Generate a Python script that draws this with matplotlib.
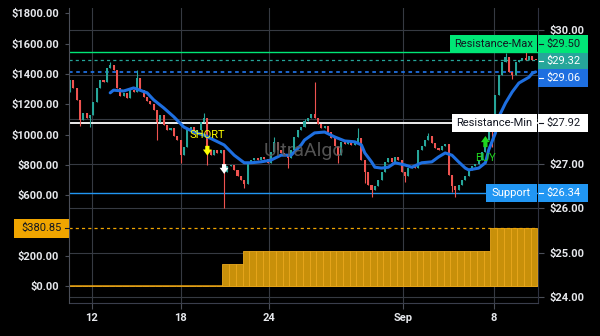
import matplotlib
matplotlib.use("Agg")
import matplotlib.pyplot as plt
from matplotlib.patches import Rectangle
from matplotlib.lines import Line2D
from matplotlib.transforms import IdentityTransform
import numpy as np

plt.rcParams["font.family"] = ["Roboto", "DejaVu Sans"]

# ---- price bars (open of each bar = previous close) ----
first_open = 28.61
closes = [
    28.88, 28.70, 28.43, 27.98, 28.14, 28.02, 28.09, 28.38, 28.70, 28.88,
    28.83, 29.15, 29.21, 29.10, 28.70, 28.52, 28.59, 28.47, 28.65, 28.61,
    28.92, 28.65, 28.50, 28.41, 28.34, 28.20, 27.93, 28.09, 27.87, 27.76,
    27.80, 27.62, 27.53, 27.19, 27.37, 27.76, 27.82, 27.69, 27.76, 27.93,
    28.02, 27.31, 27.19, 27.31, 27.24, 27.31, 26.81, 26.95, 26.97, 26.86,
    26.72, 26.63, 26.54, 27.04, 27.08, 27.13, 27.08, 27.15, 27.10, 27.02,
    27.26, 27.49, 27.31, 27.24, 27.19, 27.13, 27.31, 27.60, 27.76, 27.82,
    27.96, 28.02, 28.11, 28.02, 27.89, 27.80, 27.85, 27.71, 27.58, 27.40,
    27.19, 27.49, 27.44, 27.51, 27.42, 27.46, 27.58, 27.08, 26.81, 26.52,
    26.41, 26.50, 26.63, 26.81, 27.04, 27.13, 27.04, 27.15, 27.08, 26.81,
    26.72, 26.90, 26.95, 26.90, 27.31, 27.40, 27.53, 27.62, 27.46, 27.35,
    27.31, 27.40, 27.44, 26.75, 26.50, 26.41, 26.52, 26.63, 26.72, 26.86,
    26.95, 27.00, 27.08, 27.26, 27.53, 27.87, 27.80, 28.54, 28.99, 29.28,
    29.39, 29.06, 28.99, 29.28, 29.33, 29.37, 29.33, 29.42, 29.33, 29.32,
]
# wicks sticking out past the body
wick_highs = {12: 29.28, 20: 29.10, 40: 28.14, 61: 27.60, 70: 28.00, 73: 28.83,
              86: 27.80, 107: 27.69, 130: 29.48, 136: 29.51}
wick_lows = {3: 27.85, 6: 27.82, 26: 27.53, 33: 27.02, 41: 26.97, 46: 26.00,
             52: 26.45, 65: 26.90, 80: 27.02, 88: 26.57, 90: 26.25, 100: 26.59,
             114: 26.36, 115: 26.25, 126: 27.37, 132: 28.90}

# moving average line
ma_idx = [12, 13, 16, 19, 23, 25, 28, 31, 34, 37, 40, 43, 46, 49, 52, 54, 57, 60,
          63, 66, 69, 70, 73, 76, 79, 82, 85, 87, 88, 90, 91, 93, 95, 97, 100, 102,
          105, 108, 110, 112, 114, 116, 118, 119, 122, 124, 125, 127, 128, 130,
          132, 134, 137, 138, 139]
ma_val = [28.59, 28.65, 28.63, 28.70, 28.59, 28.43, 28.25, 28.05, 27.82, 27.71,
          27.64, 27.53, 27.42, 27.19, 27.02, 27.02, 27.04, 27.08, 27.19, 27.19,
          27.42, 27.53, 27.69, 27.71, 27.60, 27.51, 27.49, 27.42, 27.24, 27.04,
          26.92, 26.90, 26.92, 27.02, 26.97, 26.92, 27.02, 27.04, 27.15, 27.24,
          27.19, 27.04, 26.90, 26.86, 26.90, 27.02, 27.31, 27.69, 28.05, 28.36,
          28.61, 28.81, 28.94, 29.03, 29.06]

# equity steps (one equity bar per two price bars)
eq_bar_count = 70
eq_step_start = [0, 23, 26, 63]
eq_step_level = [0, 145, 231, 380.85]
eq_last = 380.85

# horizontal levels on the price scale
level_vals = [29.50, 29.32, 29.06, 27.92, 26.34]
level_names = ["Resistance-Max", "", "", "Resistance-Min", "Support"]
level_colors = ["#00e676", "#26a69a", "#1e6fe0", "#ffffff", "#2196f3"]
level_text = ["#131722", "#ffffff", "#ffffff", "#131722", "#ffffff"]
level_ls = ["-", (0, (2.5, 2.5)), (0, (2, 2)), "-", "-"]
level_lw = [1.0, 0.9, 1.3, 1.3, 1.0]

# signals
sig_idx = [41, 46, 124]
sig_label = ["SHORT", "", "BUY"]
sig_from = [27.40, 26.99, 27.37]
sig_to = [27.18, 26.77, 27.62]
sig_color = ["#ffff00", "#ffffff", "#1ed61e"]

x_tick_pos = [6.5, 33, 59.5, 99.5, 126.5]
x_tick_lab = ["12", "18", "24", "Sep", "8"]
price_ticks = [24, 25, 26, 27, 28, 29, 30]
price_tick_lab = ["$24.00", "$25.00", "$26.00", "$27.00", "", "", "$30.00"]
eq_ticks = [0, 200, 600, 800, 1000, 1200, 1400, 1600, 1800]

GREEN = "#26a69a"
RED = "#ef5350"
TXT = "#e6e8ec"
GRID = "#363a42"

W, H = 600, 336
fig = plt.figure(figsize=(W / 100, H / 100), dpi=100, facecolor="black")
ax = fig.add_axes([69 / W, 1 - 303 / H, 469 / W, 295 / H])
ax.set_facecolor("black")
eq_ax = ax.twinx()

# candles
n = len(closes)
x = np.arange(n)
c = np.array(closes)
o = np.array([first_open] + closes[:-1])
hi = np.maximum(o, c)
lo = np.minimum(o, c)
for i, v in wick_highs.items():
    hi[i] = v
for i, v in wick_lows.items():
    lo[i] = v
cols = np.where(c >= o, GREEN, RED)
ax.vlines(x, lo, hi, colors=cols, lw=0.8, zorder=3)
ax.bar(x, np.maximum(np.abs(c - o), 0.02), bottom=np.minimum(o, c), width=0.62,
       color=cols, lw=0, zorder=3)

ax.plot(ma_idx, ma_val, color="#1e6fe0", lw=2.2, zorder=4, solid_capstyle="round")

for v, col, ls, lw in zip(level_vals, level_colors, level_ls, level_lw):
    ax.axhline(v, color=col, ls=ls, lw=lw, zorder=2)

for i, lab, y0, y1, col in zip(sig_idx, sig_label, sig_from, sig_to, sig_color):
    ax.annotate("", xy=(i, y1), xytext=(i, y0),
                arrowprops=dict(arrowstyle="simple,head_width=0.8,head_length=0.55,tail_width=0.38",
                                fc=col, ec="none", shrinkA=0, shrinkB=0, mutation_scale=8),
                zorder=6)
    if lab:
        up = y1 > y0
        ax.annotate(lab, xy=(i, y0), xytext=(0, -8 if up else 8), textcoords="offset points",
                    ha="center", va="center", color=col, fontsize=8, zorder=6)

ax.set_xlim(-0.3, 139.7)
ax.set_ylim(23.872, 30.494)
ax.yaxis.tick_right()
ax.set_yticks(price_ticks)
ax.set_yticklabels(price_tick_lab)
ax.set_xticks(x_tick_pos)
ax.set_xticklabels(x_tick_lab)
ax.grid(True, color=GRID, lw=0.8)
ax.set_axisbelow(True)
ax.tick_params(axis="y", colors="#4a4e58", labelcolor=TXT, labelsize=8, length=4, pad=4)
ax.tick_params(axis="x", colors="#4a4e58", labelcolor=TXT, labelsize=8, length=4, pad=3)
for t in ax.get_xticklabels() + ax.get_yticklabels():
    t.set_fontweight("bold")

# equity bars on the left scale
heights = np.zeros(eq_bar_count)
for s, lev in zip(eq_step_start, eq_step_level):
    heights[s:] = lev
eq_ax.axhline(0, color="#e8a010", lw=1.1, zorder=1)
eq_ax.bar(np.arange(eq_bar_count) * 2 + 0.5, heights, width=2, color="#c8900a",
          edgecolor="#eaa81c", lw=0.6, zorder=2)
eq_ax.axhline(eq_last, color="#f0a500", ls=(0, (2.5, 2.5)), lw=0.9, zorder=2)
eq_ax.set_ylim(-112, 1835)
eq_ax.yaxis.tick_left()
eq_ax.set_yticks(eq_ticks)
eq_ax.set_yticklabels([f"${v:.2f}" for v in eq_ticks])
eq_ax.tick_params(axis="y", colors="#4a4e58", labelcolor=TXT, labelsize=8, length=3, pad=4)
for t in eq_ax.get_yticklabels():
    t.set_fontweight("bold")

for a in (ax, eq_ax):
    a.spines["top"].set_visible(False)
ax.spines["left"].set_visible(False)
eq_ax.spines["right"].set_visible(False)
eq_ax.spines["bottom"].set_visible(False)
eq_ax.spines["left"].set_color("#4a4e58")
ax.spines["right"].set_color("#2e3240")
ax.spines["bottom"].set_color("#3a3e4c")

eq_ax.text(0.5, 0.515, "UltraAlgo", transform=ax.transAxes, ha="center", va="center",
           fontsize=14, color="#5c5c5c", alpha=0.9, zorder=8)

# value tags on the axes
ident = IdentityTransform()


def tag(x0, x1, yc, h, fc, txt, tc, tx, ha, dash=None):
    fig.add_artist(Rectangle((x0, yc - h / 2), x1 - x0, h, transform=ident,
                             fc=fc, ec="none", zorder=20))
    if dash is not None:
        fig.add_artist(Line2D(dash, [yc, yc], transform=ident, color=tc, lw=0.8, zorder=21))
    fig.text(tx, yc, txt, transform=ident, color=tc, fontsize=8, ha=ha,
             va="center", zorder=22)


right_x = 538
tag_shift = [8, -1, -6.5, 0, 0]
tag_h = [18, 16, 18, 18, 18]
name_w = [87, 0, 0, 85, 51]
for v, name, fc, tc, sh, h, nw in zip(level_vals, level_names, level_colors, level_text,
                                      tag_shift, tag_h, name_w):
    yc = ax.transData.transform((0, v))[1] + sh
    tag(right_x, right_x + 50, yc, h, fc, f"${v:.2f}", tc, right_x + 8, "left",
        dash=[right_x + 1, right_x + 5])
    if name:
        tag(right_x - 1 - nw, right_x - 1, yc, h, fc, name, tc, right_x - 1 - nw / 2, "center")

yc = eq_ax.transData.transform((0, eq_last))[1]
tag(14, 69, yc, 19, "#f0a500", f"${eq_last:.2f}", "#131722", 62, "right", dash=[65, 69])

fig.savefig("out.png", dpi=100, facecolor="black")
